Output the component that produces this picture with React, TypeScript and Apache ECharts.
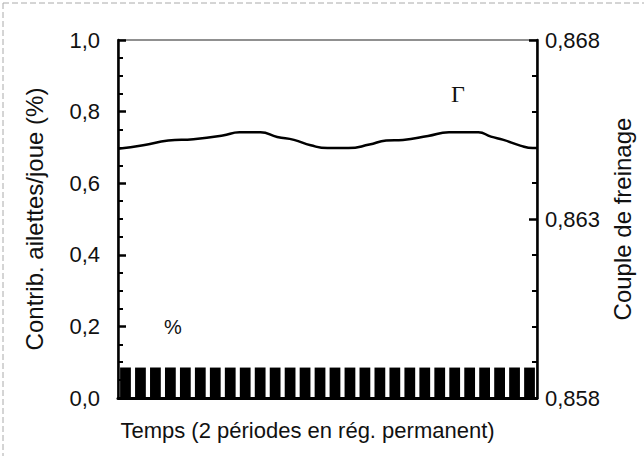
import React, { useEffect, useRef } from "react";
import * as echarts from "echarts";

// Time axis (arbitrary units, 2 periods over 0..100)
const times = [0, 6, 12, 18, 25, 29, 34, 38, 42, 46, 50, 55, 60, 64, 68, 74, 79, 86, 89, 92, 96, 99, 100];
// Couple de freinage (right axis)
const couple = [
  0.86496, 0.86506, 0.86519, 0.86523, 0.86533, 0.86542, 0.86542, 0.86529, 0.86521, 0.86506, 0.86498,
  0.86498, 0.86508, 0.86519, 0.86521, 0.86532, 0.86542, 0.86542, 0.8653, 0.86521, 0.86505, 0.86498, 0.86498,
];
// Contribution ailettes/joue (%) bars (left axis)
const barCats = Array.from({ length: 28 }, (_, i) => String(i + 1));
const contrib = [
  0.085, 0.085, 0.085, 0.085, 0.085, 0.085, 0.085, 0.085, 0.085, 0.085, 0.085, 0.085, 0.085, 0.085,
  0.085, 0.085, 0.085, 0.085, 0.085, 0.085, 0.085, 0.085, 0.085, 0.085, 0.085, 0.085, 0.085, 0.085,
];

const FONT = "'Liberation Sans', Arial, sans-serif";
const FS = 22;
const FS_V = 24;

export default function App() {
  const ref = useRef<HTMLDivElement>(null);
  useEffect(() => {
    document.body.style.margin = "0";
    const chart = echarts.init(ref.current!, null, { renderer: "svg" });
    const grid = { left: 118, right: 107, top: 40, bottom: 58 };
    chart.setOption({
      animation: false,
      backgroundColor: "#ffffff",
      textStyle: { fontFamily: FONT },
      grid: { ...grid, show: true, borderColor: "#222", borderWidth: 1.2, backgroundColor: "transparent" },
      xAxis: [
        {
          type: "value",
          min: 0,
          max: 100,
          position: "bottom",
          axisLine: { show: true, lineStyle: { color: "#000", width: 3 } },
          axisTick: { show: false },
          axisLabel: { show: false },
          splitLine: { show: false },
          name: "Temps (2 périodes en rég. permanent)",
          nameLocation: "middle",
          nameGap: 21,
          nameTextStyle: { fontFamily: FONT, fontSize: FS, color: "#111", padding: [0, 40, 0, 0] },
        },
        {
          type: "category",
          data: barCats,
          show: false,
          boundaryGap: true,
        },
      ],
      yAxis: [
        {
          type: "value",
          min: 0,
          max: 1,
          interval: 0.2,
          position: "left",
          axisLine: { show: true, lineStyle: { color: "#000", width: 2.5 } },
          axisTick: { show: true, inside: true, length: 8, lineStyle: { color: "#000", width: 2.5 } },
          minorTick: { show: true, splitNumber: 4, length: 5, lineStyle: { color: "#000", width: 2 } },
          axisLabel: {
            fontFamily: FONT,
            fontSize: FS,
            color: "#111",
            margin: 18,
            formatter: (v: number) => v.toFixed(1).replace(".", ","),
          },
          splitLine: { show: false },
          name: "Contrib. ailettes/joue (%)",
          nameLocation: "middle",
          nameGap: 72,
          nameRotate: 90,
          nameTextStyle: { fontFamily: FONT, fontSize: FS_V, color: "#111" },
        },
        {
          type: "value",
          min: 0.858,
          max: 0.868,
          interval: 0.005,
          position: "right",
          axisLine: { show: true, lineStyle: { color: "#000", width: 2.5 } },
          axisTick: { show: true, inside: true, length: 8, lineStyle: { color: "#000", width: 2.5 } },
          minorTick: { show: true, splitNumber: 5, length: 5, lineStyle: { color: "#000", width: 2 } },
          axisLabel: {
            fontFamily: FONT,
            fontSize: FS,
            color: "#111",
            margin: 8,
            formatter: (v: number) => v.toFixed(3).replace(".", ","),
          },
          splitLine: { show: false },
          name: "Couple de freinage",
          nameLocation: "middle",
          nameGap: 72,
          nameRotate: 90,
          nameTextStyle: { fontFamily: FONT, fontSize: FS_V, color: "#111" },
        },
      ],
      series: [
        {
          name: "%",
          type: "bar",
          xAxisIndex: 1,
          yAxisIndex: 0,
          data: contrib,
          barCategoryGap: "28%",
          itemStyle: { color: "#000" },
          silent: true,
        },
        {
          name: "Γ",
          type: "line",
          xAxisIndex: 0,
          yAxisIndex: 1,
          data: times.map((t, i) => [t, couple[i]]),
          smooth: true,
          showSymbol: false,
          lineStyle: { color: "#000", width: 2.5 },
          silent: true,
        },
      ],
      graphic: [
        {
          type: "text",
          left: 451,
          top: 82,
          style: { text: "Γ", fontFamily: "'Liberation Serif', 'Times New Roman', serif", fontSize: 24, fill: "#111" },
        },
        {
          type: "text",
          left: 164,
          top: 317,
          style: { text: "%", fontFamily: FONT, fontSize: 20, fill: "#111" },
        },
        {
          type: "line",
          shape: { x1: 3, y1: 3, x2: 644, y2: 3 },
          style: { stroke: "#aaa", lineWidth: 1, lineDash: [6, 3] },
        },
        {
          type: "line",
          shape: { x1: 3, y1: 3, x2: 3, y2: 456 },
          style: { stroke: "#aaa", lineWidth: 1, lineDash: [6, 3] },
        },
      ],
    });
    return () => chart.dispose();
  }, []);
  return (
    <div
      ref={ref}
      style={{ position: "absolute", left: 0, top: 0, width: 644, height: 456 }}
    />
  );
}
